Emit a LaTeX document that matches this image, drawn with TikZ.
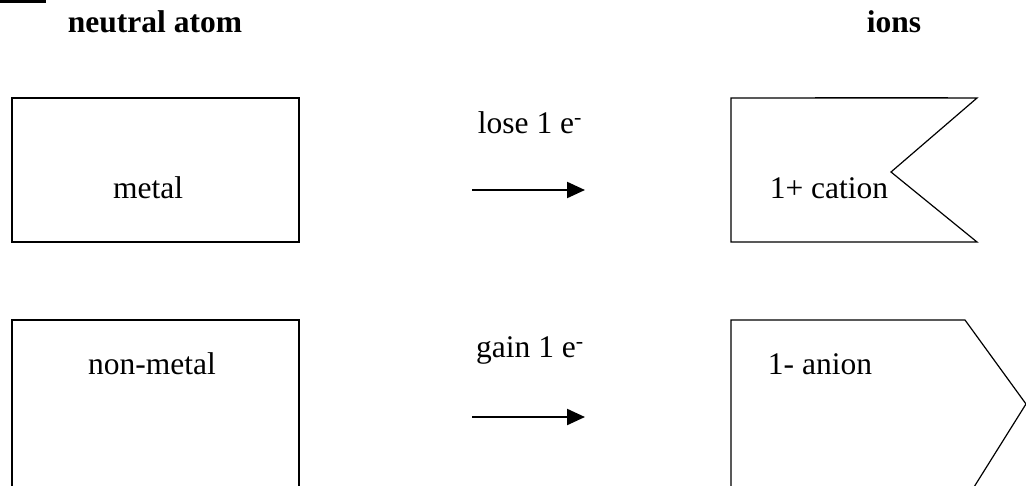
\documentclass[tikz,border=0pt]{standalone}
\usepackage{fontspec}
\setmainfont{Liberation Serif}
\usetikzlibrary{arrows.meta}
\begin{document}
\begin{tikzpicture}[x=1pt,y=-1pt,
  shapeline/.style={draw=black,line width=1.2pt,line join=miter},
  lbl/.style={inner sep=0pt,font=\fontsize{31.5}{37}\selectfont},
  head/.style={inner sep=0pt,font=\fontsize{31.5}{37}\selectfont\bfseries},
  react/.style={line width=2.2pt,-{Triangle[length=18pt,width=16pt]}}]
\useasboundingbox (0,0) rectangle (1026,485);
% corner mark
\coordinate (m1) at (0,1.5);
\coordinate (m2) at (46,1.5);
\draw[line width=3pt] (m1) -- (m2);
% headings
\node[head] (hneutral) at (155,22) {neutral atom};
\node[head] (hions) at (894,22) {ions};
% metal box
\node[shapeline,minimum width=287pt,minimum height=144pt,inner sep=0pt] (metalbox) at (155.5,170) {};
\node[lbl] (metal) at (148,188) {metal};
% non-metal box (bottom cut off)
\draw[shapeline] (12,495) -- (12,320) -- (299,320) -- (299,495);
\node[lbl] (nonmetal) at (152,364) {non-metal};
% cation
\draw[shapeline] (731,98) -- (977,98) -- (891,172) -- (977,242) -- (731,242) -- cycle;
\draw[line width=0.8pt] (815,97.3) -- (948,97.3);
\node[lbl] (cation) at (829,188) {1+ cation};
% anion
\draw[shapeline] (969,495) -- (1026,404) -- (965,320) -- (731,320) -- (731,495);
\node[lbl] (anion) at (820,364) {1- anion};
% labels
\node[lbl] (lose) at (530,123) {lose 1 e\textsuperscript{-}};
\node[lbl] (gain) at (530,350) {gain 1 e\textsuperscript{-}};
% arrows
\coordinate (a1s) at (472,190);
\coordinate (a1e) at (585,190);
\coordinate (a2s) at (472,417);
\coordinate (a2e) at (585,417);
\draw[react] (a1s) -- (a1e);
\draw[react] (a2s) -- (a2e);
\end{tikzpicture}
\end{document}
